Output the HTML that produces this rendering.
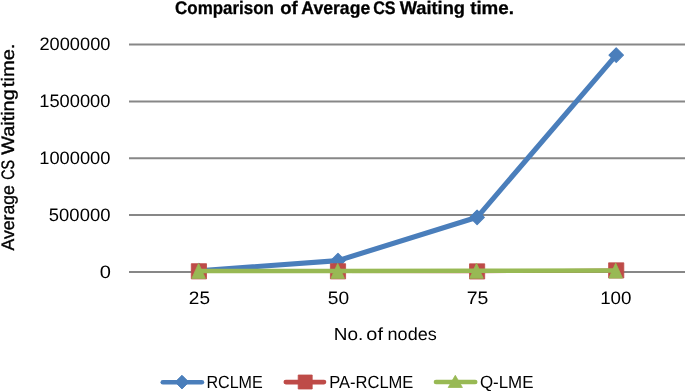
<!DOCTYPE html>
<html>
<head>
<meta charset="utf-8">
<style>
html,body{margin:0;padding:0;background:#fff;width:685px;height:391px;overflow:hidden;}
svg{display:block;will-change:transform;}
text{font-family:"Liberation Sans", sans-serif;fill:#000;white-space:pre;text-rendering:geometricPrecision;}
</style>
</head>
<body>
<svg width="685" height="391" viewBox="0 0 685 391">
<rect width="685" height="391" fill="#fff"/>
<g stroke="#000" stroke-width="0.3"><text x="175.11" y="13.90" font-size="18.2" font-weight="bold" textLength="98.74" lengthAdjust="spacingAndGlyphs">Comparison</text>
<text x="280.18" y="13.90" font-size="18.2" font-weight="bold" textLength="17.49" lengthAdjust="spacingAndGlyphs">of</text>
<text x="301.37" y="13.90" font-size="18.2" font-weight="bold" textLength="68.83" lengthAdjust="spacingAndGlyphs">Average</text>
<text x="373.24" y="13.90" font-size="18.2" font-weight="bold" textLength="22.39" lengthAdjust="spacingAndGlyphs">CS</text>
<text x="399.68" y="13.90" font-size="18.2" font-weight="bold" textLength="65.33" lengthAdjust="spacingAndGlyphs">Waiting</text>
<text x="470.17" y="13.90" font-size="18.2" font-weight="bold" textLength="43.82" lengthAdjust="spacingAndGlyphs">time.</text></g>
<g stroke="#878787" stroke-width="2"><line x1="129" y1="44.50" x2="685" y2="44.50"/><line x1="129" y1="101.45" x2="685" y2="101.45"/><line x1="129" y1="158.30" x2="685" y2="158.30"/><line x1="129" y1="215.00" x2="685" y2="215.00"/><line x1="129" y1="271.90" x2="685" y2="271.90"/></g>
<text x="39.48" y="50.10" font-size="18" fill="#2a2a2a" textLength="70.93" lengthAdjust="spacingAndGlyphs">2000000</text>
<text x="39.21" y="107.20" font-size="18" fill="#2a2a2a" textLength="71.21" lengthAdjust="spacingAndGlyphs">1500000</text>
<text x="39.21" y="164.20" font-size="18" fill="#2a2a2a" textLength="71.21" lengthAdjust="spacingAndGlyphs">1000000</text>
<text x="48.86" y="220.90" font-size="18" fill="#2a2a2a" textLength="61.56" lengthAdjust="spacingAndGlyphs">500000</text>
<text x="99.72" y="277.80" font-size="18" fill="#2a2a2a" textLength="11.17" lengthAdjust="spacingAndGlyphs">0</text>
<g transform="translate(13.9,0) rotate(-90)" stroke="#000" stroke-width="0.35"><text x="-250.53" y="0.00" font-size="18" textLength="65.31" lengthAdjust="spacingAndGlyphs">Average</text>
<text x="-179.73" y="0.00" font-size="18" textLength="19.88" lengthAdjust="spacingAndGlyphs">CS</text>
<text x="-154.69" y="0.00" font-size="18" textLength="65.35" lengthAdjust="spacingAndGlyphs">Waiting</text>
<text x="-87.20" y="0.00" font-size="18" textLength="43.64" lengthAdjust="spacingAndGlyphs">time.</text></g>
<text x="188.84" y="304.00" font-size="18" fill="#2a2a2a" textLength="21.16" lengthAdjust="spacingAndGlyphs">25</text>
<text x="327.83" y="304.00" font-size="18" fill="#2a2a2a" textLength="21.32" lengthAdjust="spacingAndGlyphs">50</text>
<text x="466.70" y="304.00" font-size="18" fill="#2a2a2a" textLength="21.61" lengthAdjust="spacingAndGlyphs">75</text>
<text x="600.17" y="304.00" font-size="18" fill="#2a2a2a" textLength="31.37" lengthAdjust="spacingAndGlyphs">100</text>
<text x="333.75" y="340.00" font-size="17.5" fill="#2a2a2a" textLength="29.48" lengthAdjust="spacingAndGlyphs">No.</text>
<text x="366.36" y="340.00" font-size="17.5" fill="#2a2a2a" textLength="16.61" lengthAdjust="spacingAndGlyphs">of</text>
<text x="387.60" y="340.00" font-size="17.5" fill="#2a2a2a" textLength="49.15" lengthAdjust="spacingAndGlyphs">nodes</text>
<polyline points="198.90,270.70 338.00,260.60 477.10,217.30 616.20,55.10" fill="none" stroke="#4A7EBB" stroke-width="5.1" stroke-linejoin="round" stroke-linecap="round"/>
<polygon points="198.90,263.50 206.10,270.70 198.90,277.90 191.70,270.70" fill="#4A7EBB" stroke="#4A7EBB" stroke-width="1.2" stroke-linejoin="round"/>
<polygon points="338.00,253.40 345.20,260.60 338.00,267.80 330.80,260.60" fill="#4A7EBB" stroke="#4A7EBB" stroke-width="1.2" stroke-linejoin="round"/>
<polygon points="477.10,210.10 484.30,217.30 477.10,224.50 469.90,217.30" fill="#4A7EBB" stroke="#4A7EBB" stroke-width="1.2" stroke-linejoin="round"/>
<polygon points="616.20,47.90 623.40,55.10 616.20,62.30 609.00,55.10" fill="#4A7EBB" stroke="#4A7EBB" stroke-width="1.2" stroke-linejoin="round"/>
<polyline points="198.90,271.30 338.00,271.30 477.10,271.40 616.20,270.40" fill="none" stroke="#BE4B48" stroke-width="3.6" stroke-linejoin="round" stroke-linecap="round"/>
<rect x="191.30" y="263.70" width="15.20" height="15.20" fill="#BE4B48" stroke="#BE4B48" stroke-width="0.8" stroke-linejoin="round"/>
<rect x="330.40" y="263.70" width="15.20" height="15.20" fill="#BE4B48" stroke="#BE4B48" stroke-width="0.8" stroke-linejoin="round"/>
<rect x="469.50" y="263.80" width="15.20" height="15.20" fill="#BE4B48" stroke="#BE4B48" stroke-width="0.8" stroke-linejoin="round"/>
<rect x="608.60" y="262.80" width="15.20" height="15.20" fill="#BE4B48" stroke="#BE4B48" stroke-width="0.8" stroke-linejoin="round"/>
<polyline points="198.60,270.90 337.70,270.90 476.50,270.80 615.70,270.60" fill="none" stroke="#98B954" stroke-width="4.5" stroke-linejoin="round" stroke-linecap="round"/>
<polygon points="198.60,263.40 205.40,278.40 191.80,278.40" fill="#98B954" stroke="#98B954" stroke-width="0.8" stroke-linejoin="round"/>
<polygon points="337.70,263.40 344.50,278.40 330.90,278.40" fill="#98B954" stroke="#98B954" stroke-width="0.8" stroke-linejoin="round"/>
<polygon points="476.50,263.30 483.30,278.30 469.70,278.30" fill="#98B954" stroke="#98B954" stroke-width="0.8" stroke-linejoin="round"/>
<polygon points="615.70,263.10 622.50,278.10 608.90,278.10" fill="#98B954" stroke="#98B954" stroke-width="0.8" stroke-linejoin="round"/>
<line x1="162.8" y1="382.2" x2="201.9" y2="382.2" stroke="#4A7EBB" stroke-width="4.6" stroke-linecap="round"/>
<polygon points="182.00,375.30 188.80,382.10 182.00,388.90 175.20,382.10" fill="#4A7EBB" stroke="#4A7EBB" stroke-width="1" stroke-linejoin="round"/>
<line x1="285.8" y1="382.1" x2="324" y2="382.1" stroke="#BE4B48" stroke-width="4.6" stroke-linecap="round"/>
<rect x="298.20" y="375.00" width="14.00" height="14.00" fill="#BE4B48" stroke="#BE4B48" stroke-width="0.8" stroke-linejoin="round"/>
<line x1="436" y1="382" x2="475.2" y2="382" stroke="#98B954" stroke-width="4.6" stroke-linecap="round"/>
<polygon points="455.30,375.30 462.40,387.50 448.20,387.50" fill="#98B954" stroke="#98B954" stroke-width="0.8" stroke-linejoin="round"/>
<text x="206.38" y="388.10" font-size="17.6" fill="#2a2a2a" textLength="56.41" lengthAdjust="spacingAndGlyphs">RCLME</text>
<text x="329.16" y="388.10" font-size="17.6" fill="#2a2a2a" textLength="84.24" lengthAdjust="spacingAndGlyphs">PA-RCLME</text>
<text x="479.90" y="388.10" font-size="17.6" fill="#2a2a2a" textLength="53.63" lengthAdjust="spacingAndGlyphs">Q-LME</text>
</svg>
</body>
</html>
